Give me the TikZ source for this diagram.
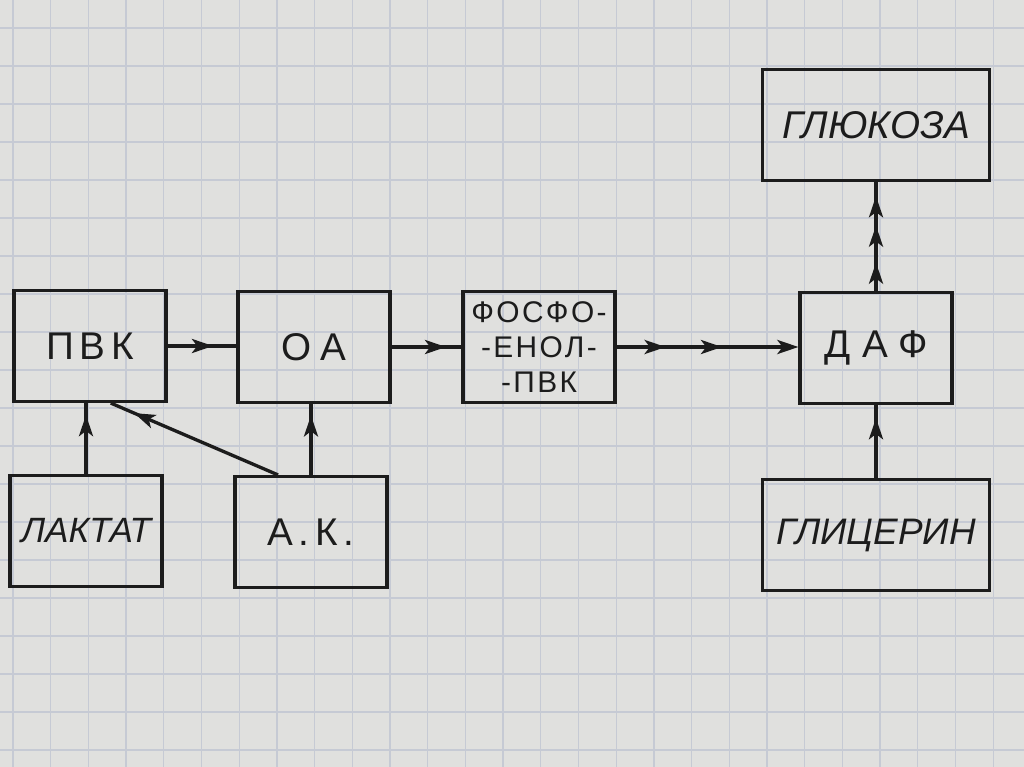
\documentclass[tikz,border=0pt]{standalone}
\usepackage{fontspec}
\setmainfont{Liberation Sans}
\usepackage{xcolor}
\usetikzlibrary{arrows.meta, positioning, decorations.markings}
\definecolor{paper}{RGB}{224,224,222}
\definecolor{gridline}{RGB}{198,202,212}
\definecolor{ink}{RGB}{28,28,28}

\begin{document}
\begin{tikzpicture}[
    x=0.02cm, y=-0.02cm,
    base/.style={draw=ink, line width=1.8pt, align=center, inner sep=0pt, text=ink, font=\fontsize{22}{26}\selectfont},
    box/.style={base, rectangle, minimum width=3.04cm, minimum height=2.22cm},
    widebox/.style={base, rectangle, minimum width=4.54cm, minimum height=2.22cm},
    spaced/.style={font=\fontsize{22}{26}\selectfont\addfontfeature{LetterSpace=#1}},
    slant/.style={font=\fontsize{#1}{26}\selectfont\itshape},
    wire/.style={draw=ink, line width=1.9pt},
    tip at/.style={postaction={decorate, decoration={markings,
        mark=at position #1 with {\arrow{Stealth[length=12pt,width=8pt,inset=3pt]}}}}}
]

% 0. Squared paper
\useasboundingbox (0,0) rectangle (1024,767);
\fill[paper] (0,0) rectangle (1024,767);
\foreach \gx in {13,50.7,...,1024} \draw[gridline, line width=0.7pt] (\gx,0) -- (\gx,767);
\foreach \gy in {28,66,...,767} \draw[gridline, line width=0.7pt] (0,\gy) -- (1024,\gy);

% 1. Main row
\node[box, spaced=15] (pvk) at (90,346) {ПВК};
\node[box, spaced=25] (oa) at (314,347) {ОА};
\node[box, font=\fontsize{17}{20}\selectfont\addfontfeature{LetterSpace=8}] (fep) at (539,347) {ФОСФО-\\-ЕНОЛ-\\-ПВК};
\node[box, spaced=30] (daf) at (876,348) {ДАФ};

% 2. Sources and product
\node[widebox, slant=22] (glu) at (876,125) {ГЛЮКОЗА};
\node[box, slant=20] (lak) at (86,531) {ЛАКТАТ};
\node[box, spaced=15] (ak) at (311,532) {А.К.};
\node[widebox, slant=21] (gli) at (876,535) {ГЛИЦЕРИН};

% Connections / Arrows
\draw[wire, tip at=0.66] (pvk.east) -- (pvk.east -| oa.west);
\draw[wire, tip at=0.78] (oa.east) -- (oa.east -| fep.west);
\draw[wire, tip at/.list={0.27,0.58}, -{Stealth[length=12pt,width=8pt,inset=3pt]}] (fep.east) -- (fep.east -| daf.west);
\draw[wire, tip at/.list={0.26,0.6,0.87}] (daf.north) -- (daf.north |- glu.south);

\draw[wire, tip at=0.83] (lak.north) -- (lak.north |- pvk.south);
\draw[wire, tip at=0.86] (ak.120) -- (pvk.-70);
\draw[wire, tip at=0.84] (ak.north) -- (ak.north |- oa.south);
\draw[wire, tip at=0.82] (gli.north) -- (gli.north |- daf.south);

\end{tikzpicture}
\end{document}
